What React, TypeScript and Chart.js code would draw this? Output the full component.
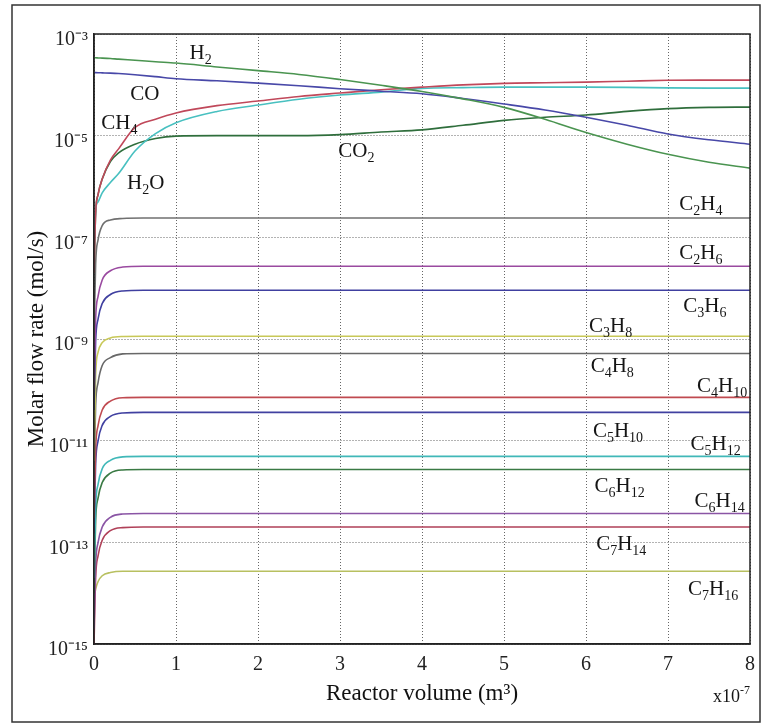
import React, { useEffect, useRef } from 'react';
import { Chart, registerables } from 'chart.js';

Chart.register(...registerables);

// ---------- data ----------
// reactor volume, in units of 1e-7 m^3
const xsMain = [0, 0.02, 0.05, 0.1, 0.2, 0.3, 0.5, 0.75, 1, 1.5, 2, 2.5, 3, 3.5, 4, 4.5, 5, 5.5, 6, 6.5, 7, 7.5, 8];
const xsMinor = [0, 0.02, 0.05, 0.1, 0.2, 0.35, 0.6, 1, 2, 3, 4, 5, 6, 7, 8];

const h2 = [3.4e-4, 3.4e-4, 3.38e-4, 3.36e-4, 3.3e-4, 3.2e-4, 3.05e-4, 2.85e-4, 2.68e-4, 2.25e-4, 1.9e-4, 1.6e-4, 1.27e-4, 9.8e-5, 7.4e-5, 5.3e-5, 3.6e-5, 2.1e-5, 1.15e-5, 6.8e-6, 4.3e-6, 3.0e-6, 2.3e-6];
const co = [1.75e-4, 1.74e-4, 1.73e-4, 1.72e-4, 1.7e-4, 1.67e-4, 1.58e-4, 1.45e-4, 1.32e-4, 1.2e-4, 1.08e-4, 9.6e-5, 8.4e-5, 7.5e-5, 6.7e-5, 5.4e-5, 4.2e-5, 3.2e-5, 2.3e-5, 1.6e-5, 1.08e-5, 8.3e-6, 6.8e-6];
const ch4 = [2e-8, 3e-7, 7e-7, 1.4e-6, 3.3e-6, 5.5e-6, 1.45e-5, 2.1e-5, 2.8e-5, 3.9e-5, 4.8e-5, 5.9e-5, 6.9e-5, 8.0e-5, 9.0e-5, 1.0e-4, 1.07e-4, 1.1e-4, 1.13e-4, 1.18e-4, 1.23e-4, 1.24e-4, 1.24e-4];
const h2o = [5e-8, 3.5e-7, 5e-7, 7.5e-7, 1.2e-6, 1.8e-6, 5e-6, 1.1e-5, 1.8e-5, 3.0e-5, 4.0e-5, 5.2e-5, 6.3e-5, 7.2e-5, 8.5e-5, 8.8e-5, 9.0e-5, 9.0e-5, 9.0e-5, 8.9e-5, 8.7e-5, 8.6e-5, 8.6e-5];
const co2 = [2e-8, 3e-7, 7e-7, 1.4e-6, 3.1e-6, 4.6e-6, 6.8e-6, 8.8e-6, 9.8e-6, 1.0e-5, 1.0e-5, 1.0e-5, 1.05e-5, 1.18e-5, 1.3e-5, 1.6e-5, 2.0e-5, 2.3e-5, 2.55e-5, 3.0e-5, 3.4e-5, 3.6e-5, 3.65e-5];

const c2h4 = [1e-9, 3e-8, 9e-8, 1.7e-7, 2.2e-7, 2.35e-7, 2.4e-7, 2.4e-7, 2.4e-7, 2.4e-7, 2.4e-7, 2.4e-7, 2.4e-7, 2.4e-7, 2.4e-7];
const c2h6 = [1e-10, 2.5e-9, 7e-9, 1.45e-8, 2.2e-8, 2.6e-8, 2.7e-8, 2.7e-8, 2.7e-8, 2.7e-8, 2.7e-8, 2.7e-8, 2.7e-8, 2.7e-8, 2.7e-8];
const c3h6 = [4e-11, 9e-10, 2.5e-9, 5e-9, 7.5e-9, 8.8e-9, 9.1e-9, 9.1e-9, 9.1e-9, 9.1e-9, 9.1e-9, 9.1e-9, 9.1e-9, 9.1e-9, 9.1e-9];
const c3h8 = [4e-12, 2e-10, 5.5e-10, 8.5e-10, 1.05e-9, 1.12e-9, 1.13e-9, 1.13e-9, 1.13e-9, 1.13e-9, 1.13e-9, 1.13e-9, 1.13e-9, 1.13e-9, 1.13e-9];
const c4h8 = [2e-12, 5e-11, 1.4e-10, 3e-10, 4.3e-10, 5.1e-10, 5.2e-10, 5.2e-10, 5.2e-10, 5.2e-10, 5.2e-10, 5.2e-10, 5.2e-10, 5.2e-10, 5.2e-10];
const c4h10 = [3e-13, 7e-12, 2e-11, 4e-11, 6e-11, 7e-11, 7.1e-11, 7.1e-11, 7.1e-11, 7.1e-11, 7.1e-11, 7.1e-11, 7.1e-11, 7.1e-11, 7.1e-11];
const c5h10 = [1.5e-13, 3.5e-12, 1e-11, 2e-11, 3e-11, 3.5e-11, 3.6e-11, 3.6e-11, 3.6e-11, 3.6e-11, 3.6e-11, 3.6e-11, 3.6e-11, 3.6e-11, 3.6e-11];
const c5h12 = [2e-14, 5e-13, 1.4e-12, 2.8e-12, 4.1e-12, 4.8e-12, 4.9e-12, 4.9e-12, 4.9e-12, 4.9e-12, 4.9e-12, 4.9e-12, 4.9e-12, 4.9e-12, 4.9e-12];
const c6h12 = [1e-14, 2.7e-13, 7.5e-13, 1.5e-12, 2.3e-12, 2.65e-12, 2.7e-12, 2.7e-12, 2.7e-12, 2.7e-12, 2.7e-12, 2.7e-12, 2.7e-12, 2.7e-12, 2.7e-12];
const c6h14 = [2e-15, 3.7e-14, 1e-13, 2e-13, 3.1e-13, 3.6e-13, 3.7e-13, 3.7e-13, 3.7e-13, 3.7e-13, 3.7e-13, 3.7e-13, 3.7e-13, 3.7e-13, 3.7e-13];
const c7h14 = [1e-15, 2e-14, 5.5e-14, 1.1e-13, 1.7e-13, 1.95e-13, 2.0e-13, 2.0e-13, 2.0e-13, 2.0e-13, 2.0e-13, 2.0e-13, 2.0e-13, 2.0e-13, 2.0e-13];
const c7h16 = [8e-15, 1.2e-14, 1.7e-14, 2.2e-14, 2.55e-14, 2.7e-14, 2.7e-14, 2.7e-14, 2.7e-14, 2.7e-14, 2.7e-14, 2.7e-14, 2.7e-14, 2.7e-14, 2.7e-14];

const seriesNames = ['H₂', 'CO', 'CH₄', 'H₂O', 'CO₂', 'C₂H₄', 'C₂H₆', 'C₃H₆', 'C₃H₈', 'C₄H₈', 'C₄H₁₀', 'C₅H₁₀', 'C₅H₁₂', 'C₆H₁₂', 'C₆H₁₄', 'C₇H₁₄', 'C₇H₁₆'];
const seriesValues = [h2, co, ch4, h2o, co2, c2h4, c2h6, c3h6, c3h8, c4h8, c4h10, c5h10, c5h12, c6h12, c6h14, c7h14, c7h16];
const seriesColors = ['#4a9450', '#4848a8', '#c0485a', '#48c0c0', '#2f6e3c', '#707070', '#9a4aa0', '#4040a0', '#c8c858', '#686868', '#c04a50', '#4040a0', '#40b8b8', '#3a7a44', '#8a55a5', '#b04058', '#b8c060'];

// in-plot labels (text centre, in data coordinates)
const labelTexts = ['H₂', 'CO', 'CH₄', 'H₂O', 'CO₂', 'C₂H₄', 'C₂H₆', 'C₃H₆', 'C₃H₈', 'C₄H₈', 'C₄H₁₀', 'C₅H₁₀', 'C₅H₁₂', 'C₆H₁₂', 'C₆H₁₄', 'C₇H₁₄', 'C₇H₁₆'];
const labelX = [1.3, 0.62, 0.31, 0.63, 3.2, 7.4, 7.4, 7.45, 6.3, 6.32, 7.66, 6.39, 7.58, 6.41, 7.63, 6.43, 7.55];
const labelY = [4.4e-4, 6.9e-5, 1.85e-5, 1.22e-6, 5.2e-6, 4.7e-7, 5.1e-8, 4.6e-9, 1.87e-9, 3.05e-10, 1.23e-10, 1.6e-11, 8.9e-12, 1.32e-12, 6.7e-13, 9.5e-14, 1.24e-14];

const xTickValues = [0, 1, 2, 3, 4, 5, 6, 7, 8];
const yTickValues = [1e-15, 1e-13, 1e-11, 1e-9, 1e-7, 1e-5, 1e-3];
const xTitle = 'Reactor volume (m³)';
const yTitle = 'Molar flow rate (mol/s)';
const xMultiplier = 'x10⁻⁷';

// ---------- helpers ----------
const FONT = "'Liberation Serif', 'Times New Roman', serif";
const SUPS: Record<string, string> = { '-': '⁻', '0': '⁰', '1': '¹', '2': '²', '3': '³', '4': '⁴', '5': '⁵', '6': '⁶', '7': '⁷', '8': '⁸', '9': '⁹' };
const SUB_CH = '₀₁₂₃₄₅₆₇₈₉';
const SUP_CH: Record<string, string> = { '⁻': '-', '⁰': '0', '¹': '1', '²': '2', '³': '3', '⁴': '4', '⁵': '5', '⁶': '6', '⁷': '7', '⁸': '8', '⁹': '9' };

function powLabel(v: number): string {
  const e = Math.round(Math.log10(v));
  return '10' + String(e).split('').map((c) => SUPS[c] || c).join('');
}

type Seg = { t: string; k: 'n' | 'sub' | 'sup' };
function segs(text: string): Seg[] {
  const out: Seg[] = [];
  for (const ch of text) {
    let k: Seg['k'] = 'n';
    let t = ch;
    const si = SUB_CH.indexOf(ch);
    if (si >= 0) { k = 'sub'; t = String(si); }
    else if (SUP_CH[ch]) { k = 'sup'; t = SUP_CH[ch]; }
    const last = out[out.length - 1];
    if (last && last.k === k) last.t += t; else out.push({ t, k });
  }
  return out;
}

function drawRich(ctx: CanvasRenderingContext2D, text: string, cx: number, cy: number, size: number, align: 'center' | 'left' = 'center') {
  const small = Math.round(size * 0.66);
  const parts = segs(text);
  let w = 0;
  for (const p of parts) {
    ctx.font = `${p.k === 'n' ? size : small}px ${FONT}`;
    w += ctx.measureText(p.t).width;
  }
  let x = align === 'center' ? cx - w / 2 : cx;
  const base = cy + size * 0.33;
  ctx.textAlign = 'left';
  ctx.textBaseline = 'alphabetic';
  for (const p of parts) {
    ctx.font = `${p.k === 'n' ? size : small}px ${FONT}`;
    const dy = p.k === 'sub' ? size * 0.22 : p.k === 'sup' ? -size * 0.45 : 0;
    ctx.fillText(p.t, x, base + dy);
    x += ctx.measureText(p.t).width;
  }
}

const decorPlugin = {
  id: 'decor',
  beforeDraw(chart: any) {
    const { ctx, width, height } = chart;
    ctx.save();
    ctx.fillStyle = '#ffffff';
    ctx.fillRect(0, 0, width, height);
    ctx.restore();
  },
  afterDraw(chart: any) {
    const { ctx, chartArea, scales } = chart;
    ctx.save();
    // outer frame
    ctx.strokeStyle = '#333333';
    ctx.lineWidth = 1.5;
    ctx.strokeRect(12, 5, 748, 717);
    // plot box
    ctx.strokeStyle = '#222222';
    ctx.lineWidth = 1.5;
    ctx.strokeRect(chartArea.left, chartArea.top, chartArea.right - chartArea.left, chartArea.bottom - chartArea.top);
    // labels
    ctx.fillStyle = '#151515';
    for (let i = 0; i < labelTexts.length; i++) {
      const px = scales.x.getPixelForValue(labelX[i]);
      const py = scales.y.getPixelForValue(labelY[i]);
      drawRich(ctx, labelTexts[i], px, py, 21);
    }
    // x multiplier
    drawRich(ctx, xMultiplier, chartArea.right - 37, chartArea.bottom + 52, 18, 'left');
    ctx.restore();
  },
};

export default function App() {
  const ref = useRef<HTMLCanvasElement | null>(null);
  useEffect(() => {
    document.body.style.margin = '0';
    if (!ref.current) return;
    const datasets = seriesNames.map((name, i) => {
      const xs = i < 5 ? xsMain : xsMinor;
      return {
        label: name,
        data: xs.map((x, j) => ({ x, y: seriesValues[i][j] })),
        borderColor: seriesColors[i],
        backgroundColor: seriesColors[i],
        borderWidth: 1.6,
        pointRadius: 0,
        fill: false,
        cubicInterpolationMode: 'monotone' as const,
      };
    });
    const chart = new Chart(ref.current, {
      type: 'line',
      data: { datasets },
      plugins: [decorPlugin],
      options: {
        responsive: false,
        animation: false,
        parsing: false as any,
        layout: { padding: { top: 34, right: 7, left: 0, bottom: 0 } },
        plugins: { legend: { display: false }, tooltip: { enabled: false } },
        scales: {
          x: {
            type: 'linear',
            min: 0,
            max: 8,
            afterBuildTicks: (s: any) => { s.ticks = xTickValues.map((v) => ({ value: v })); },
            afterFit: (s: any) => { s.height = 83; },
            ticks: { font: { family: FONT, size: 20 }, color: '#222', padding: 9, maxRotation: 0, callback: (v: any) => String(v) },
            grid: { color: '#666666', lineWidth: 1, drawTicks: false },
            border: { display: true, color: '#222', width: 1.5, dash: [1, 2] },
            title: { display: true, text: xTitle, color: '#111', font: { family: FONT, size: 23 }, padding: { top: 0, bottom: 19 } },
          },
          y: {
            type: 'logarithmic',
            min: 1e-15,
            max: 1e-3,
            afterBuildTicks: (s: any) => { s.ticks = yTickValues.map((v) => ({ value: v })); },
            afterFit: (s: any) => { s.width = 94; },
            ticks: { font: { family: FONT, size: 20 }, color: '#222', padding: 6, labelOffset: 6, callback: (v: any) => powLabel(Number(v)) },
            grid: { color: '#666666', lineWidth: 1, drawTicks: false },
            border: { display: true, color: '#222', width: 1.5, dash: [1, 2] },
            title: { display: true, text: yTitle, color: '#111', font: { family: FONT, size: 23 }, padding: { top: 23, bottom: 0 } },
          },
        },
      },
    });
    return () => chart.destroy();
  }, []);
  return (
    <div style={{ width: 764, height: 727 }}>
      <canvas ref={ref} width={764} height={727} style={{ display: 'block' }} />
    </div>
  );
}
